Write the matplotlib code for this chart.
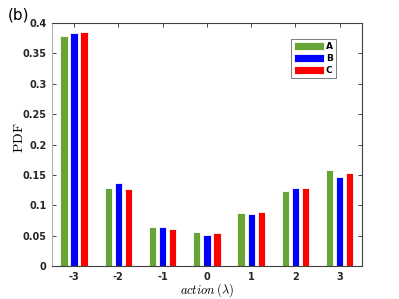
import matplotlib
matplotlib.use('Agg')
import matplotlib.pyplot as plt
import numpy as np

actions = [-3, -2, -1, 0, 1, 2, 3]
pdf_a = [0.379, 0.128, 0.065, 0.056, 0.087, 0.124, 0.158]
pdf_b = [0.384, 0.136, 0.065, 0.052, 0.086, 0.128, 0.146]
pdf_c = [0.386, 0.127, 0.061, 0.054, 0.089, 0.128, 0.153]
names = ['A', 'B', 'C']
colors = ['#67a536', '#0000ff', '#ff0000']

plt.rcParams['mathtext.fontset'] = 'cm'
plt.rcParams['axes.unicode_minus'] = False

fig = plt.figure(figsize=(3.99, 2.99), dpi=100)
ax = fig.add_axes([0.130, 0.110, 0.777, 0.813])

x = np.array(actions)
w = 0.165
for k, vals in enumerate([pdf_a, pdf_b, pdf_c]):
    ax.bar(x + (k - 1) * 0.227, vals, width=w, color=colors[k],
           edgecolor='white', linewidth=0.6, label=names[k])

ax.set_xlim(-3.5, 3.5)
ax.set_ylim(0, 0.4)
ax.set_xticks(actions)
ax.set_yticks(np.arange(0, 0.41, 0.05))
ax.set_yticklabels(['0', '0.05', '0.1', '0.15', '0.2', '0.25', '0.3', '0.35', '0.4'])
ax.tick_params(direction='in', top=True, right=True, length=3, width=0.6,
               labelsize=7, colors='#262626', pad=4)
for lab in ax.get_xticklabels() + ax.get_yticklabels():
    lab.set_fontweight('bold')
for s in ax.spines.values():
    s.set_color('#404040')
    s.set_linewidth(0.8)
ax.spines['left'].set_color('#b0b0b0')

ax.set_xlabel(r'$action\,(\lambda)$', fontsize=9, labelpad=0)
ax.set_ylabel(r'$\mathrm{PDF}$', fontsize=10, labelpad=1)
ax.yaxis.set_label_coords(-0.085, 0.53)

leg = ax.legend(loc='upper right', bbox_to_anchor=(0.915, 0.935),
                prop={'weight': 'bold', 'size': 6.5}, frameon=True, fancybox=False,
                handlelength=3.3, handleheight=1.0, handletextpad=0.25,
                labelspacing=0.35, borderpad=0.3, borderaxespad=0)
leg.get_frame().set_edgecolor('#404040')
leg.get_frame().set_linewidth(0.6)

fig.text(0.02, 0.975, '(b)', fontsize=11, va='top', ha='left')

fig.savefig('out.png', dpi=100)
